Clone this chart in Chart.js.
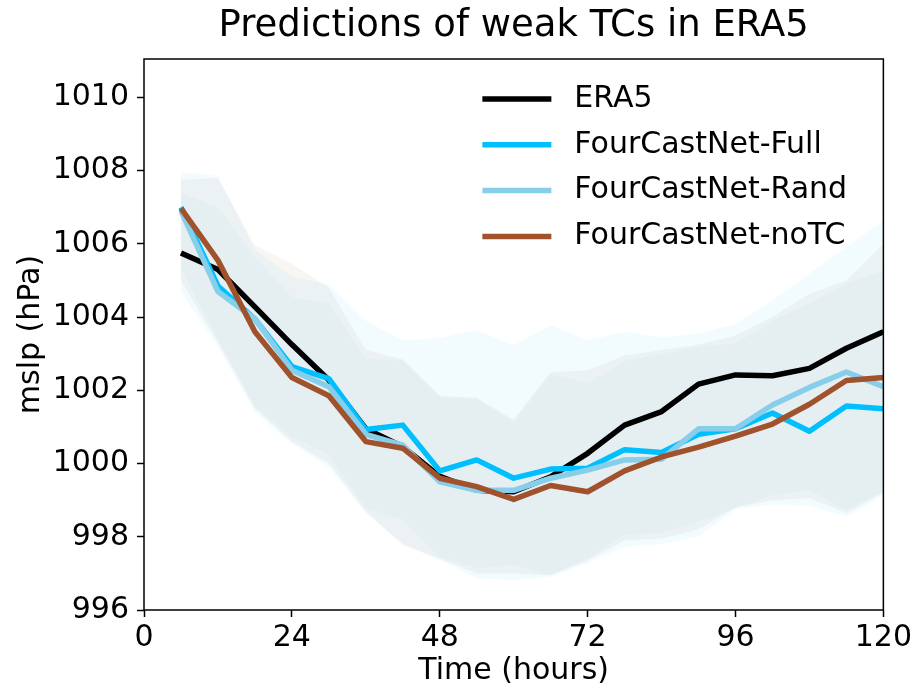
<!DOCTYPE html>
<html>
<head>
<meta charset="utf-8">
<script src="https://cdn.jsdelivr.net/npm/chart.js@4"></script>
<style>
    html, body { margin: 0; padding: 0; background: #fff; }
    #wrap { width: 915px; height: 692px; }
</style>
</head>
<body>
<div id="wrap"><canvas id="mslpChart" width="915" height="692"></canvas></div>
<script>
// lead time (hours)
const hours = [6, 12, 18, 24, 30, 36, 42, 48, 54, 60, 66, 72, 78, 84, 90, 96, 102, 108, 114, 120];

// mean mslp (hPa)
const era5 = [1005.75, 1005.3, 1004.28, 1003.25, 1002.28, 1000.95, 1000.46, 999.65, 999.27, 999.23, 999.64, 1000.28, 1001.05, 1001.42, 1002.17, 1002.42, 1002.4, 1002.6, 1003.15, 1003.6];
const fcnFull = [1007.0, 1004.85, 1003.95, 1002.65, 1002.32, 1000.93, 1001.05, 999.8, 1000.1, 999.6, 999.85, 999.87, 1000.38, 1000.3, 1000.8, 1000.95, 1001.38, 1000.88, 1001.57, 1001.5];
const fcnRand = [1006.9, 1004.7, 1003.95, 1002.55, 1002.1, 1000.8, 1000.5, 999.5, 999.27, 999.27, 999.6, 999.82, 1000.1, 1000.12, 1000.95, 1000.95, 1001.6, 1002.08, 1002.5, 1002.1];
const fcnNoTC = [1006.97, 1005.55, 1003.6, 1002.35, 1001.85, 1000.6, 1000.42, 999.6, 999.37, 999.02, 999.4, 999.23, 999.8, 1000.18, 1000.45, 1000.75, 1001.08, 1001.62, 1002.27, 1002.35];

// spread bands
const fullUpper = [1007.96, 1007.87, 1005.85, 1005.1, 1004.9, 1003.9, 1003.37, 1003.43, 1003.64, 1003.23, 1003.78, 1003.37, 1003.6, 1003.45, 1003.56, 1003.82, 1004.46, 1005.19, 1005.92, 1006.64];
const fullLower = [1004.7, 1003.2, 1001.4, 1000.55, 999.9, 998.64, 997.82, 997.36, 996.86, 996.82, 996.9, 997.28, 997.73, 997.8, 998.0, 998.75, 998.87, 998.85, 998.55, 999.14];
const randUpper = [1007.4, 1007.0, 1005.64, 1004.55, 1004.37, 1002.87, 1002.82, 1001.82, 1001.78, 1001.14, 1002.45, 1002.2, 1002.8, 1003.0, 1003.19, 1003.28, 1003.91, 1004.37, 1004.92, 1005.28];
const randLower = [1005.3, 1003.4, 1001.55, 1000.73, 1000.23, 998.78, 998.46, 997.45, 997.14, 997.23, 996.95, 997.41, 998.05, 998.1, 998.41, 998.78, 999.14, 999.27, 998.73, 999.23];
const notcUpper = [1007.75, 1007.8, 1005.96, 1005.46, 1004.8, 1003.1, 1002.85, 1001.85, 1001.8, 1001.2, 1002.5, 1002.55, 1002.95, 1003.1, 1003.25, 1003.5, 1004.0, 1004.64, 1005.0, 1006.0];
const notcLower = [1005.0, 1003.3, 1001.5, 1000.6, 1000.0, 998.7, 997.77, 997.4, 997.0, 997.0, 996.95, 997.35, 997.9, 997.95, 998.2, 998.8, 999.0, 999.05, 998.65, 999.2];

const xTicks = [0, 24, 48, 72, 96, 120];
const yTicks = [996, 998, 1000, 1002, 1004, 1006, 1008, 1010];

const titleText = 'Predictions of weak TCs in ERA5';
const fontFamily = '"DejaVu Sans", sans-serif';
const labelSize = 30;

function pts(ys) {
    return hours.map((h, i) => ({ x: h, y: ys[i] }));
}

function mainLine(label, ys, color, order) {
    return {
        label: label,
        data: pts(ys),
        borderColor: color,
        backgroundColor: color,
        borderWidth: 5.5,
        pointRadius: 0,
        borderJoinStyle: 'round',
        fill: false,
        order: order
    };
}

function band(ys, fillColor, fillTo) {
    return {
        label: '',
        data: pts(ys),
        borderWidth: 0,
        borderColor: 'rgba(0,0,0,0)',
        pointRadius: 0,
        backgroundColor: fillColor,
        fill: fillTo,
        order: 10,
        isBand: true
    };
}

const datasets = [
    mainLine('ERA5', era5, '#000000', 4),
    mainLine('FourCastNet-Full', fcnFull, '#00bfff', 3),
    mainLine('FourCastNet-Rand', fcnRand, '#87ceeb', 2),
    mainLine('FourCastNet-noTC', fcnNoTC, '#a0522d', 1),
    band(fullUpper, 'rgba(0,191,255,0.05)', '+1'),
    band(fullLower, 'rgba(0,0,0,0)', false),
    band(randUpper, 'rgba(135,206,235,0.08)', '+1'),
    band(randLower, 'rgba(0,0,0,0)', false),
    band(notcUpper, 'rgba(160,82,45,0.06)', '+1'),
    band(notcLower, 'rgba(0,0,0,0)', false)
];

// frame, title and legend drawn the matplotlib way
const decorPlugin = {
    id: 'decor',
    afterDatasetsDraw(chart) {
        const ctx = chart.ctx;
        const a = chart.chartArea;
        ctx.save();
        ctx.strokeStyle = '#000';
        ctx.lineWidth = 1.5;
        ctx.strokeRect(a.left, a.top, a.right - a.left, a.bottom - a.top);
        ctx.restore();
    },
    afterDraw(chart) {
        const ctx = chart.ctx;
        const a = chart.chartArea;
        ctx.save();
        ctx.fillStyle = '#000';
        ctx.font = '37px ' + fontFamily;
        ctx.textAlign = 'center';
        ctx.textBaseline = 'middle';
        ctx.fillText(titleText, (a.left + a.right) / 2, 26);

        // legend
        const lineX0 = a.right - 401;
        const lineX1 = a.right - 332;
        const textX = a.right - 309;
        let rowY = 99;
        ctx.font = labelSize + 'px ' + fontFamily;
        ctx.textAlign = 'left';
        chart.data.datasets.forEach((ds) => {
            if (ds.isBand) return;
            ctx.strokeStyle = ds.borderColor;
            ctx.lineWidth = 5.5;
            ctx.beginPath();
            ctx.moveTo(lineX0, rowY);
            ctx.lineTo(lineX1, rowY);
            ctx.stroke();
            ctx.fillStyle = '#000';
            ctx.fillText(ds.label, textX, rowY);
            rowY += 45.8;
        });
        ctx.restore();
    }
};

const config = {
    type: 'line',
    data: { datasets: datasets },
    options: {
        responsive: false,
        animation: false,
        layout: { padding: { top: 59, right: 31, left: 0, bottom: 0 } },
        plugins: {
            legend: { display: false },
            title: { display: false },
            tooltip: { enabled: false }
        },
        scales: {
            x: {
                type: 'linear',
                min: 0,
                max: 120,
                afterFit: (s) => { s.height = 82; },
                afterBuildTicks: (s) => { s.ticks = xTicks.map(v => ({ value: v })); },
                grid: { display: true, drawOnChartArea: false, drawTicks: true, tickLength: 7, tickWidth: 1.5, tickColor: '#000' },
                border: { display: false },
                ticks: { color: '#000', font: { family: fontFamily, size: labelSize }, padding: 3, maxRotation: 0,
                         callback: (v) => String(v) },
                title: { display: true, text: 'Time (hours)', color: '#000', font: { family: fontFamily, size: labelSize }, padding: { top: 0, bottom: 3 } }
            },
            y: {
                min: 996,
                max: 1011.05,
                afterFit: (s) => { s.width = 144; },
                afterBuildTicks: (s) => { s.ticks = yTicks.map(v => ({ value: v })); },
                grid: { display: true, drawOnChartArea: false, drawTicks: true, tickLength: 7, tickWidth: 1.5, tickColor: '#000' },
                border: { display: false },
                ticks: { color: '#000', font: { family: fontFamily, size: labelSize }, padding: 8,
                         callback: (v) => String(v) },
                title: { display: true, text: 'mslp (hPa)', color: '#000', font: { family: fontFamily, size: labelSize }, padding: { top: 13, bottom: 0 } }
            }
        }
    },
    plugins: [decorPlugin]
};

const ctx = document.getElementById('mslpChart').getContext('2d');
const mslpChart = new Chart(ctx, config);
</script>
</body>
</html>
